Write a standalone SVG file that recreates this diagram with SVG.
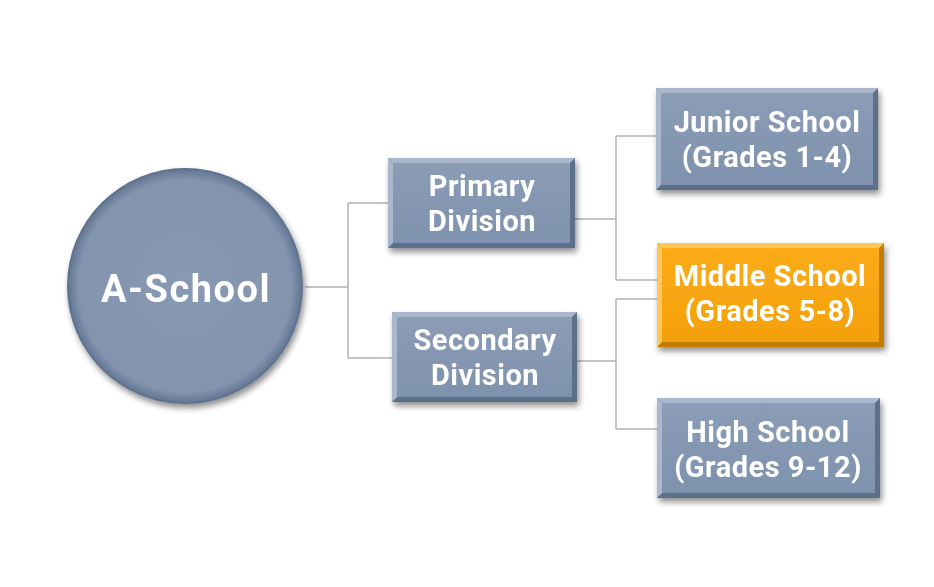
<svg xmlns="http://www.w3.org/2000/svg" width="934" height="587" viewBox="0 0 934 587">
<defs>
<filter id="sh" x="-20%" y="-20%" width="140%" height="150%">
<feGaussianBlur in="SourceAlpha" stdDeviation="3"/>
<feOffset dx="2" dy="4"/>
<feComponentTransfer><feFuncA type="linear" slope="0.45"/></feComponentTransfer>
<feMerge><feMergeNode/><feMergeNode in="SourceGraphic"/></feMerge>
</filter>
<linearGradient id="gb" x1="0" y1="0" x2="0" y2="1">
<stop offset="0" stop-color="#8a9cb6"/><stop offset="1" stop-color="#7f92ad"/>
</linearGradient>
<linearGradient id="go" x1="0" y1="0" x2="0" y2="1">
<stop offset="0" stop-color="#fbab18"/><stop offset="1" stop-color="#f4a00c"/>
</linearGradient>
<radialGradient id="gc" cx="0.5" cy="0.5" r="0.5">
<stop offset="0" stop-color="#8799b3"/><stop offset="0.9" stop-color="#8294ae"/><stop offset="0.97" stop-color="#6a7d99"/><stop offset="1" stop-color="#5a6d89"/>
</radialGradient>
<style>
.conn{fill:none;stroke:#b3b3b3;stroke-width:1.5}
.t{font-family:Roboto,"Liberation Sans",sans-serif;font-weight:700;fill:#ffffff;text-anchor:middle;font-size:29px;letter-spacing:0.5px}
.big{font-size:38px;letter-spacing:1.5px}
.lt{fill:#a9b8cc}
.dk{fill:#5c6f8b}
.lto{fill:#ffc65a}
.dko{fill:#c27d00}
</style>
</defs>
<rect width="934" height="587" fill="#ffffff"/>
<g id="connectors">
<path class="conn" d="M305 287 H348 M348 203 V358 M348 203 H388 M348 358 H392"/>
<path class="conn" d="M575 219 H616 M616 136 V280 M616 136 H656 M616 280 H657"/>
<path class="conn" d="M577 361 H616 M616 299 V429 M616 299 H657 M616 429 H657"/>
</g>
<g id="a-school" filter="url(#sh)">
<circle cx="185" cy="286" r="118" fill="url(#gc)"/>
<text class="t big" x="186" y="302">A-School</text>
</g>
<g id="primary" filter="url(#sh)">
<rect x="388" y="158" width="187" height="90" class="dk"/>
<polygon class="lt" points="388,158 575,158 570,163 393,163"/>
<polygon class="lt" points="388,158 393,163 393,243 388,248"/>
<rect x="393" y="163" width="177" height="80" fill="url(#gb)"/>
<text class="t" x="482" y="196">Primary</text>
<text class="t" x="482" y="231">Division</text>
</g>
<g id="secondary" filter="url(#sh)">
<rect x="392" y="312" width="185" height="90" class="dk"/>
<polygon class="lt" points="392,312 577,312 572,317 397,317"/>
<polygon class="lt" points="392,312 397,317 397,397 392,402"/>
<rect x="397" y="317" width="175" height="80" fill="url(#gb)"/>
<text class="t" x="485" y="350">Secondary</text>
<text class="t" x="485" y="385">Division</text>
</g>
<g id="junior" filter="url(#sh)">
<rect x="656" y="88" width="222" height="102" class="dk"/>
<polygon class="lt" points="656,88 878,88 873,93 661,93"/>
<polygon class="lt" points="656,88 661,93 661,185 656,190"/>
<rect x="661" y="93" width="212" height="92" fill="url(#gb)"/>
<text class="t" x="767" y="132">Junior School</text>
<text class="t" x="767" y="167">(Grades 1-4)</text>
</g>
<g id="middle" filter="url(#sh)">
<rect x="657" y="243" width="227" height="104" class="dko"/>
<polygon class="lto" points="657,243 884,243 879,248 662,248"/>
<polygon class="lto" points="657,243 662,248 662,342 657,347"/>
<rect x="662" y="248" width="217" height="94" fill="url(#go)"/>
<text class="t" x="770" y="286">Middle School</text>
<text class="t" x="770" y="321">(Grades 5-8)</text>
</g>
<g id="high" filter="url(#sh)">
<rect x="657" y="398" width="223" height="100" class="dk"/>
<polygon class="lt" points="657,398 880,398 875,403 662,403"/>
<polygon class="lt" points="657,398 662,403 662,493 657,498"/>
<rect x="662" y="403" width="213" height="90" fill="url(#gb)"/>
<text class="t" x="768" y="442">High School</text>
<text class="t" x="768" y="477">(Grades 9-12)</text>
</g>
</svg>
